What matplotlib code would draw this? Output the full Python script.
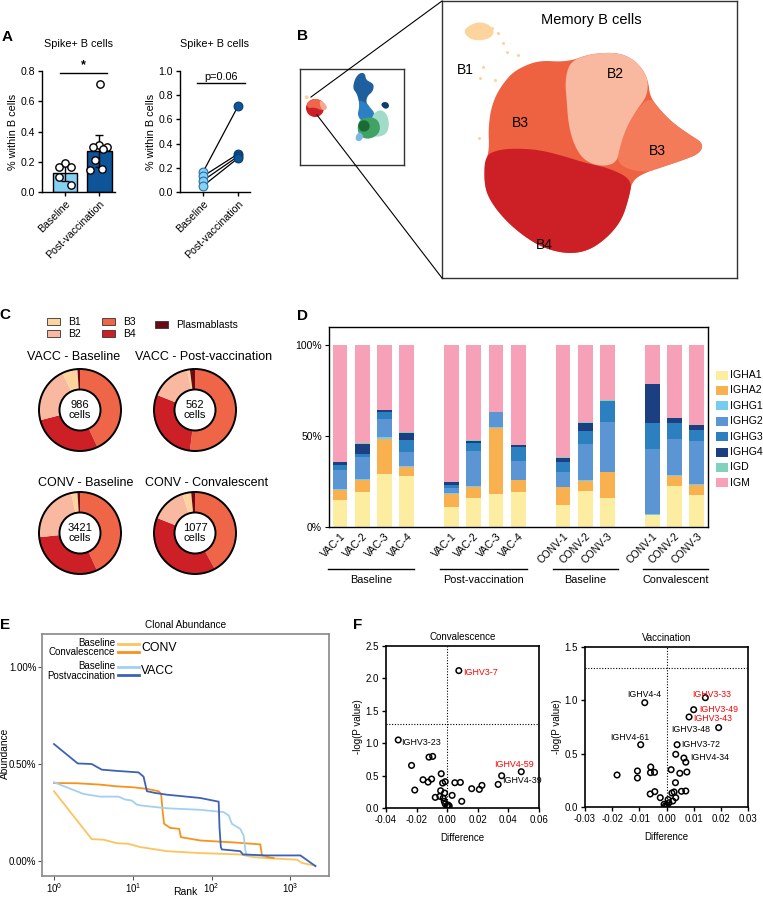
import matplotlib
matplotlib.use('Agg')
import matplotlib.pyplot as plt
import numpy as np
from matplotlib.patches import Rectangle, Circle, Polygon

plt.rcParams['font.family'] = ['Liberation Sans', 'DejaVu Sans']
plt.rcParams['axes.linewidth'] = 1.0
plt.rcParams['mathtext.fontset'] = 'custom'
plt.rcParams['mathtext.rm'] = 'Liberation Sans'
plt.rcParams['mathtext.it'] = 'Liberation Sans:italic'
plt.rcParams['mathtext.bf'] = 'Liberation Sans:bold'

W, H = 763, 900
fig = plt.figure(figsize=(W / 100, H / 100), dpi=100)


def ax_px(x0, y0, x1, y1, **kw):
    return fig.add_axes([x0 / W, 1 - y1 / H, (x1 - x0) / W, (y1 - y0) / H], **kw)


def smooth(pts, n=3, closed=True):
    p = np.array(pts, dtype=float)
    for _ in range(n):
        q = np.roll(p, -1, axis=0) if closed else p[1:]
        a = p if closed else p[:-1]
        Q = 0.75 * a + 0.25 * q
        R = 0.25 * a + 0.75 * q
        p = np.empty((2 * len(a), 2))
        p[0::2] = Q
        p[1::2] = R
    return p


# ---------------- DATA ----------------
# Panel A
a_groups = ['Baseline', 'Post-vaccination']
a_bar_mean = [0.125, 0.27]
a_bar_sd = [0.05, 0.105]
a_base_pts = [0.19, 0.165, 0.165, 0.10, 0.045]
a_post_pts = [0.715, 0.313, 0.297, 0.297, 0.285, 0.21, 0.155, 0.148]
pair_base = [0.165, 0.13, 0.095, 0.05]
pair_post = [0.71, 0.315, 0.295, 0.28]

# Panel C
donut_titles = ['VACC - Baseline', 'VACC - Post-vaccination', 'CONV - Baseline', 'CONV - Convalescent']
donut_cells = [986, 562, 3421, 1077]
frac_B1 = [0.06, 0.01, 0.025, 0.035]
frac_B2 = [0.22, 0.16, 0.23, 0.14]
frac_B3 = [0.43, 0.52, 0.43, 0.42]
frac_B4 = [0.28, 0.29, 0.30, 0.39]
frac_PB = [0.01, 0.02, 0.01, 0.015]

# Panel D
d_samples = ['VAC-1', 'VAC-2', 'VAC-3', 'VAC-4', 'VAC-1', 'VAC-2', 'VAC-3', 'VAC-4',
             'CONV-1', 'CONV-2', 'CONV-3', 'CONV-1', 'CONV-2', 'CONV-3']
d_groups = ['Baseline', 'Post-vaccination', 'Baseline', 'Convalescent']
isotypes = ['IGHA1', 'IGHA2', 'IGHG1', 'IGHG2', 'IGHG3', 'IGHG4', 'IGD', 'IGM']
IGHA1 = [0.15, 0.19, 0.29, 0.278, 0.11, 0.16, 0.18, 0.192, 0.123, 0.20, 0.16, 0.068, 0.227, 0.178]
IGHA2 = [0.055, 0.07, 0.195, 0.052, 0.07, 0.062, 0.364, 0.064, 0.095, 0.055, 0.14, 0.0, 0.055, 0.051]
IGHG1 = [0.005, 0.005, 0.01, 0.005, 0.008, 0.005, 0.005, 0.005, 0.004, 0.005, 0.005, 0.003, 0.003, 0.005]
IGHG2 = [0.105, 0.12, 0.10, 0.077, 0.026, 0.193, 0.085, 0.103, 0.08, 0.198, 0.274, 0.358, 0.20, 0.24]
IGHG3 = [0.025, 0.015, 0.035, 0.068, 0.015, 0.04, 0.0, 0.076, 0.057, 0.072, 0.115, 0.141, 0.088, 0.061]
IGHG4 = [0.017, 0.055, 0.012, 0.035, 0.016, 0.014, 0.0, 0.01, 0.022, 0.043, 0.0, 0.214, 0.026, 0.024]
IGD = [0.003, 0.005, 0.003, 0.005, 0.002, 0.006, 0.0, 0.003, 0.002, 0.005, 0.006, 0.0, 0.001, 0.004]
IGM = [0.64, 0.54, 0.355, 0.48, 0.753, 0.52, 0.366, 0.547, 0.617, 0.422, 0.30, 0.216, 0.40, 0.437]

# Panel E (rank, abundance %)
conv_base_rank = [1, 3.01, 4.24, 6.26, 8.8, 12.4, 15.1, 27, 71.8, 231, 342, 505, 1216, 1407, 2080]
conv_base_ab = [0.36, 0.113, 0.11, 0.092, 0.089, 0.072, 0.067, 0.051, 0.041, 0.034, 0.02, 0.015, 0.007, -0.01, -0.024]
conv_conv_rank = [1, 1.94, 3.84, 6.26, 10.2, 15.1, 21.2, 22.9, 24.1, 25.0, 29.8, 38.8, 40.8, 71.8, 190, 415, 436, 505, 614]
conv_conv_ab = [0.402, 0.401, 0.394, 0.385, 0.38, 0.372, 0.36, 0.346, 0.243, 0.192, 0.171, 0.166, 0.123, 0.106, 0.096, 0.086, 0.029, 0.021, 0.015]
vacc_base_rank = [1, 2.36, 3.84, 6.57, 8.0, 9.7, 11.2, 13.0, 27, 71.8, 142, 165, 181, 231, 255, 268, 276, 342, 481]
vacc_base_ab = [0.406, 0.346, 0.332, 0.332, 0.317, 0.312, 0.291, 0.286, 0.272, 0.264, 0.252, 0.235, 0.192, 0.166, 0.132, 0.058, 0.034, 0.029, 0.027]
vacc_post_rank = [1, 2.0, 3.01, 4.04, 5.68, 8.39, 11.8, 13.7, 15.1, 19.2, 27, 71.8, 123, 126, 131, 135, 231, 250, 505, 1340, 2080]
vacc_post_ab = [0.603, 0.503, 0.5, 0.471, 0.466, 0.461, 0.457, 0.435, 0.36, 0.351, 0.342, 0.325, 0.306, 0.175, 0.072, 0.06, 0.051, 0.034, 0.029, 0.029, -0.026]

# Panel F
conv_diff = [0.0076, -0.032, -0.0233, -0.0119, -0.0095, -0.0039, -0.0158, -0.0125, -0.0102, -0.003, -0.0013,
             -0.0212, -0.0043, -0.0017, -0.0078, -0.0048, -0.0026, 0.0032, -0.0019, -0.0013, 0.0, 0.0013, 0.0006,
             0.005, 0.0086, 0.0095, 0.016, 0.021, 0.0227, 0.0333, 0.0356, 0.0484]
conv_logp = [2.12, 1.05, 0.657, 0.785, 0.796, 0.529, 0.436, 0.40, 0.447, 0.385, 0.406,
             0.277, 0.267, 0.231, 0.164, 0.18, 0.154, 0.195, 0.103, 0.062, 0.036, 0.031, 0.046,
             0.39, 0.395, 0.103, 0.298, 0.287, 0.349, 0.364, 0.498, 0.56]
vacc_diff = [-0.008, 0.0143, 0.010, 0.0083, 0.0192, -0.0095, 0.0039, 0.0071, 0.0064, 0.0034, -0.0182, -0.0107,
             -0.0107, -0.0058, -0.0059, -0.0044, 0.0017, 0.0049, 0.0075, 0.0033, -0.006, -0.0043, -0.0023, 0.002,
             0.0028, 0.0034, 0.0055, 0.0071, 0.0006, 0.0023, -0.0009, -0.0004, 0.0002, 0.0009, 0.0]
vacc_logp = [0.978, 1.025, 0.9125, 0.844, 0.744, 0.584, 0.584, 0.42, 0.459, 0.494, 0.30, 0.338,
             0.272, 0.375, 0.322, 0.325, 0.35, 0.316, 0.328, 0.228, 0.122, 0.144, 0.0875, 0.131,
             0.141, 0.0875, 0.147, 0.15, 0.069, 0.056, 0.025, 0.0125, 0.016, 0.04, 0.0]
conv_labels = [('IGHV3-7', 0.0104, 2.09, 'red'), ('IGHV3-23', -0.0304, 1.016, 'black'),
               ('IGHV4-59', 0.0307, 0.678, 'red'), ('IGHV4-39', 0.0356, 0.421, 'black')]
vacc_labels = [('IGHV4-4', -0.0145, 1.056, 'black'), ('IGHV3-33', 0.0095, 1.056, 'red'),
               ('IGHV3-49', 0.0119, 0.91, 'red'), ('IGHV3-43', 0.0100, 0.826, 'red'),
               ('IGHV3-48', 0.0016, 0.728, 'black'), ('IGHV4-61', -0.0208, 0.656, 'black'),
               ('IGHV3-72', 0.0055, 0.59, 'black'), ('IGHV4-34', 0.0086, 0.466, 'black')]

# Panel B cluster outlines (UMAP coordinates)
umap_main = [(760, 250), (790, 215), (840, 190), (880, 182), (930, 185), (970, 180), (1010, 165), (1060, 158),
             (1110, 160), (1150, 178), (1180, 210), (1195, 245), (1200, 290), (1230, 330), (1270, 370), (1320, 405),
             (1360, 430), (1350, 460), (1300, 480), (1240, 500), (1180, 520), (1145, 545), (1135, 600), (1115, 660),
             (1075, 710), (1020, 750), (960, 762), (890, 748), (830, 715), (770, 665), (725, 610), (703, 560),
             (705, 500), (718, 445), (715, 390), (722, 330), (738, 285)]
umap_B3r = [(1160, 330), (1200, 290), (1230, 330), (1270, 370), (1320, 405), (1360, 430), (1350, 460), (1300, 480),
            (1240, 500), (1180, 520), (1100, 495), (1110, 440), (1130, 380)]
umap_B2 = [(960, 185), (1010, 165), (1060, 158), (1110, 160), (1150, 178), (1180, 210), (1195, 245), (1190, 290),
           (1160, 330), (1130, 380), (1110, 440), (1100, 490), (1050, 500), (1000, 480), (970, 430), (955, 370),
           (950, 300), (945, 240)]
umap_B4 = [(703, 470), (740, 450), (800, 445), (870, 450), (940, 468), (1010, 490), (1080, 505), (1148, 540),
           (1135, 600), (1115, 660), (1075, 710), (1020, 750), (960, 762), (890, 748), (830, 715), (770, 665),
           (725, 610), (703, 560)]
umap_B1 = [(640, 95), (655, 78), (685, 65), (715, 72), (735, 95), (720, 115), (690, 122), (660, 118)]
umap_B1_x = [745, 770, 805, 700, 690, 735, 688, 760, 725]
umap_B1_y = [100, 155, 165, 200, 235, 240, 415, 130, 85]

# ---------------- COLORS ----------------
c_B1, c_B2, c_B3, c_B4, c_PB = '#fdd49e', '#f9b8a0', '#ef6548', '#cd1f26', '#6b0a16'
c_base_bar, c_post_bar = '#86d0f2', '#0d5499'
iso_colors = ['#fdeda0', '#f9b04f', '#76cbf0', '#5b95d3', '#2d80c0', '#1b3f80', '#80d2bc', '#f6a1b8']
e_colors = ['#fdc45e', '#f7921e', '#a3d0f0', '#3d62b5']

# ---------------- PANEL A ----------------
axA1 = ax_px(42, 71, 115, 192)
xpos = [0, 1]
axA1.bar(xpos, a_bar_mean, width=0.7, color=[c_base_bar, c_post_bar], edgecolor='black', linewidth=1, zorder=1)
axA1.errorbar(xpos, a_bar_mean, yerr=a_bar_sd, fmt='none', ecolor='black', elinewidth=1, capsize=3, zorder=2)
jit_b = [0, -0.16, 0.16, -0.16, 0.16]
jit_p = [0.02, 0.0, -0.2, 0.21, 0.1, -0.13, 0.07, -0.27]
axA1.scatter([0 + j for j in jit_b], a_base_pts, s=28, facecolor='white', edgecolor='black', linewidth=1, zorder=3)
axA1.scatter([1 + j for j in jit_p], a_post_pts, s=28, facecolor='white', edgecolor='black', linewidth=1, zorder=3)
axA1.plot([-0.15, 1.22], [0.787, 0.787], color='black', lw=1, clip_on=False)
axA1.text(0.53, 0.80, '*', ha='center', va='bottom', fontsize=9, fontweight='bold')
axA1.set_xlim(-0.667, 1.45)
axA1.set_ylim(0, 0.8)
axA1.set_yticks([0, 0.2, 0.4, 0.6, 0.8])
axA1.set_yticklabels(['0.0', '0.2', '0.4', '0.6', '0.8'])
axA1.set_ylabel('% within B cells', fontsize=7.8, labelpad=2)
axA1.set_title('Spike+ B cells', fontsize=7.8, pad=17)

axA2 = ax_px(180, 71, 250, 192)
for b, p in zip(pair_base, pair_post):
    axA2.plot([0, 1], [b, p], color='black', lw=0.9, zorder=1)
axA2.scatter([0] * len(pair_base), pair_base, s=40, color=c_base_bar, edgecolor='#2a6da8', linewidth=0.8, zorder=3)
axA2.scatter([1] * len(pair_post), pair_post, s=40, color=c_post_bar, edgecolor='#083c70', linewidth=0.8, zorder=3)
axA2.plot([-0.17, 1.2], [0.9, 0.9], color='black', lw=1, clip_on=False)
axA2.text(0.52, 0.91, 'p=0.06', ha='center', va='bottom', fontsize=7.8)
axA2.set_xlim(-0.657, 1.34)
axA2.set_ylim(0, 1.0)
axA2.set_yticks([0, 0.2, 0.4, 0.6, 0.8, 1.0])
axA2.set_yticklabels(['0.0', '0.2', '0.4', '0.6', '0.8', '1.0'])
axA2.set_ylabel('% within B cells', fontsize=7.8, labelpad=2)
axA2.set_title('Spike+ B cells', fontsize=7.8, pad=17)

for ax in (axA1, axA2):
    ax.spines['top'].set_visible(False)
    ax.spines['right'].set_visible(False)
    ax.set_xticks(xpos)
    ax.set_xticklabels(a_groups, rotation=45, ha='right', rotation_mode='anchor', fontsize=7.8)
    ax.tick_params(axis='both', labelsize=7.6, length=3, width=1, pad=2)

# ---------------- PANEL B ----------------
axB0 = ax_px(300, 69, 404, 165)
axB0.set_xlim(120, 432)
axB0.set_ylim(435, 147)
axB0.set_xticks([]); axB0.set_yticks([])
for s in axB0.spines.values():
    s.set_color('#333333'); s.set_linewidth(1)
axB0.add_patch(Circle((165, 264), 27, color=c_B4, lw=0))
axB0.add_patch(Polygon(smooth([(140, 248), (160, 236), (180, 238), (195, 252), (200, 265), (185, 272), (165, 262), (143, 265)], 2),
                       closed=True, color='#f0664a', lw=0))
axB0.add_patch(Polygon(smooth([(178, 240), (192, 248), (203, 262), (194, 272), (182, 266)], 2), closed=True, color='#f6a98e', lw=0))
axB0.add_patch(Circle((140, 232), 6, color=c_B1, lw=0))
axB0.add_patch(Polygon(smooth([(285, 175), (300, 158), (315, 160), (318, 180), (335, 188), (342, 197), (338, 215), (322, 228),
                               (318, 248), (330, 262), (300, 265), (296, 240), (290, 220), (278, 205)], 2), closed=True, color='#1f5f9e', lw=0))
axB0.add_patch(Polygon(smooth([(296, 240), (318, 248), (330, 262), (345, 280), (335, 300), (305, 305), (292, 285), (298, 262)], 2),
                       closed=True, color='#2c7fc2', lw=0))
axB0.add_patch(Polygon(smooth([(362, 255), (370, 245), (385, 248), (388, 262), (375, 268)], 2), closed=True, color='#0e3d6b', lw=0))
axB0.add_patch(Polygon(smooth([(335, 285), (360, 268), (380, 280), (388, 310), (382, 340), (355, 352), (330, 345)], 2),
                       closed=True, color='#a2dbc8', lw=0))
axB0.add_patch(Polygon(smooth([(295, 300), (330, 290), (355, 300), (362, 330), (345, 352), (315, 358), (292, 340)], 2),
                       closed=True, color='#3fa363', lw=0))
axB0.add_patch(Circle((312, 318), 17, color='#1c6b37', lw=0))
axB0.add_patch(Polygon(smooth([(288, 345), (300, 335), (312, 350), (300, 365), (286, 360)], 2), closed=True, color='#7cb6e6', lw=0))

axB = ax_px(442, 1, 737, 278)
axB.set_xlim(576, 1461)
axB.set_ylim(834, 3)
axB.set_xticks([]); axB.set_yticks([])
for s in axB.spines.values():
    s.set_color('#333333'); s.set_linewidth(1)
axB.add_patch(Polygon(smooth(umap_main), closed=True, color='#ee6242', lw=0))
axB.add_patch(Polygon(smooth(umap_B3r), closed=True, color='#f47b5a', lw=0))
axB.add_patch(Polygon(smooth(umap_B2), closed=True, color=c_B2, lw=0))
axB.add_patch(Polygon(smooth(umap_B4), closed=True, color=c_B4, lw=0))
axB.add_patch(Polygon(smooth(umap_B1), closed=True, color=c_B1, lw=0))
axB.scatter(umap_B1_x, umap_B1_y, s=5, color=c_B1, lw=0)
axB.text(1025, 60, 'Memory B cells', ha='center', va='center', fontsize=10.5)
for lbl, x, y in [('B1', 645, 210), ('B2', 1095, 222), ('B3', 810, 370), ('B3', 1222, 452), ('B4', 882, 735)]:
    axB.text(x, y, lbl, ha='center', va='center', fontsize=10)

# ---------------- PANEL C ----------------
centers = [(80, 410), (195, 410), (80, 533), (195, 533)]
title_pos = [(74, 357), (204, 357), (86, 483), (207, 483)]
R = 41
for i, (cx, cy) in enumerate(centers):
    pad = 50
    axc = ax_px(cx - pad, cy - pad, cx + pad, cy + pad)
    vals = [frac_B3[i], frac_B4[i], frac_B2[i], frac_B1[i], frac_PB[i]]
    cols = [c_B3, c_B4, c_B2, c_B1, c_PB]
    axc.pie(vals, colors=cols, startangle=90, counterclock=False, radius=1,
            wedgeprops=dict(width=0.5, linewidth=0), normalize=True)
    axc.add_patch(Circle((0, 0), 1, fill=False, edgecolor='black', lw=1.4))
    axc.add_patch(Circle((0, 0), 0.5, fill=False, edgecolor='black', lw=1.4))
    axc.set_xlim(-pad / R, pad / R)
    axc.set_ylim(-pad / R, pad / R)
    axc.set_aspect('equal')
    axc.axis('off')
    axc.text(0, 0, f'{donut_cells[i]}\ncells', ha='center', va='center', fontsize=8, linespacing=1.1)

# ---------------- PANEL D ----------------
axD = ax_px(329, 327, 708, 527)
d_x = [0, 1, 2, 3, 5, 6, 7, 8, 10, 11, 12, 14, 15, 16]
bottom = np.zeros(len(d_x))
for name, vals, col in zip(isotypes, [IGHA1, IGHA2, IGHG1, IGHG2, IGHG3, IGHG4, IGD, IGM], iso_colors):
    v = np.array(vals)
    if name == 'IGM':
        v = 1.0 - bottom
    axD.bar(d_x, v, bottom=bottom, width=0.66, color=col, lw=0)
    bottom = bottom + v
axD.set_xlim(-0.49, 16.5)
axD.set_ylim(0, 1.1)
axD.set_yticks([0, 0.5, 1.0])
axD.set_yticklabels(['0%', '50%', '100%'])
axD.set_xticks(d_x)
axD.set_xticklabels(d_samples, rotation=45, ha='right', rotation_mode='anchor', fontsize=7.5)
axD.tick_params(axis='y', labelsize=7.5, length=3, pad=2)
axD.tick_params(axis='x', length=0, pad=3)

# ---------------- PANEL E ----------------
axE = ax_px(42, 634, 329, 876)
axE.plot(conv_base_rank, conv_base_ab, color=e_colors[0], lw=1.3)
axE.plot(conv_conv_rank, conv_conv_ab, color=e_colors[1], lw=1.3)
axE.plot(vacc_base_rank, vacc_base_ab, color=e_colors[2], lw=1.3)
axE.plot(vacc_post_rank, vacc_post_ab, color=e_colors[3], lw=1.3)
axE.set_xscale('log')
axE.set_xlim(10 ** -0.152, 10 ** 3.49)
axE.set_ylim(-0.077, 1.17)
axE.set_xticks([1, 10, 100, 1000])
axE.set_xticklabels([r'$10^0$', r'$10^1$', r'$10^2$', r'$10^3$'])
axE.xaxis.set_minor_locator(matplotlib.ticker.NullLocator())
axE.set_yticks([0, 0.5, 1.0])
axE.set_yticklabels(['0.00%', '0.50%', '1.00%'])
axE.tick_params(labelsize=7.0, length=3, color='#555555', pad=1)
for s in axE.spines.values():
    s.set_color('#888888'); s.set_linewidth(1.2)
axE.set_title('Clonal Abundance', fontsize=7.2, pad=4)

# ---------------- PANEL F ----------------
axF1 = ax_px(386, 646, 539, 808)
axF1.scatter(conv_diff, conv_logp, s=16, facecolor='none', edgecolor='black', linewidth=1.1, zorder=3)
axF1.axvline(0, color='black', ls=(0, (1, 1.5)), lw=0.8)
axF1.axhline(1.3, color='black', ls=(0, (1, 1.5)), lw=0.8)
for t, x, y, c in conv_labels:
    axF1.text(x, y, t, color=c, fontsize=6.4, ha='left', va='center')
axF1.set_xlim(-0.04, 0.06)
axF1.set_ylim(0, 2.5)
axF1.set_xticks([-0.04, -0.02, 0.0, 0.02, 0.04, 0.06])
axF1.set_xticklabels(['-0.04', '-0.02', '0.00', '0.02', '0.04', '0.06'])
axF1.set_yticks([0, 0.5, 1.0, 1.5, 2.0, 2.5])
axF1.set_yticklabels(['0.0', '0.5', '1.0', '1.5', '2.0', '2.5'])
axF1.set_title('Convalescence', fontsize=7, pad=4)

axF2 = ax_px(585, 647, 748, 807)
axF2.scatter(vacc_diff, vacc_logp, s=16, facecolor='none', edgecolor='black', linewidth=1.1, zorder=3)
axF2.axvline(0, color='black', ls=(0, (1, 1.5)), lw=0.8)
axF2.axhline(1.3, color='black', ls=(0, (1, 1.5)), lw=0.8)
for t, x, y, c in vacc_labels:
    axF2.text(x, y, t, color=c, fontsize=6.3, ha='left', va='center')
axF2.set_xlim(-0.03, 0.03)
axF2.set_ylim(0, 1.5)
axF2.set_xticks([-0.03, -0.02, -0.01, 0.0, 0.01, 0.02, 0.03])
axF2.set_xticklabels(['-0.03', '-0.02', '-0.01', '0.00', '0.01', '0.02', '0.03'])
axF2.set_yticks([0, 0.5, 1.0, 1.5])
axF2.set_yticklabels(['0.0', '0.5', '1.0', '1.5'])
axF2.set_title('Vaccination', fontsize=7, pad=4)

for ax in (axF1, axF2):
    for s in ax.spines.values():
        s.set_linewidth(1.2)
    ax.tick_params(labelsize=7, length=3, width=1, pad=2)
    ax.set_xlabel('Difference', fontsize=7, labelpad=6)
    ax.set_ylabel('-log(P value)', fontsize=7, labelpad=2)

# ---------------- OVERLAY (labels, legends, connectors) ----------------
ov = fig.add_axes([0, 0, 1, 1], zorder=10)
ov.set_xlim(0, W)
ov.set_ylim(H, 0)
ov.axis('off')
ov.patch.set_alpha(0)

for lbl, x, y in [('A', 7, 37), ('B', 302, 36), ('C', 5, 315), ('D', 302, 316), ('E', 5, 625), ('F', 358, 625)]:
    ov.text(x, y, lbl, fontsize=11, fontweight='bold', ha='center', va='center')

# B connectors
ov.plot([311, 442], [97, 1], color='black', lw=0.8)
ov.plot([317, 442], [115, 278], color='black', lw=0.8)

# C legend
for (x, y, c, t) in [(47, 318, c_B1, 'B1'), (47, 330, c_B2, 'B2'), (102, 318, c_B3, 'B3'), (102, 330, c_B4, 'B4'),
                     (155, 321, c_PB, 'Plasmablasts')]:
    ov.add_patch(Rectangle((x, y), 13, 7, facecolor=c, edgecolor='#333333', lw=0.6))
    ov.text(x + 21, y + 3.8, t, fontsize=7.5, ha='left', va='center')
# C titles
for (tx, ty), t in zip(title_pos, donut_titles):
    ov.text(tx, ty, t, fontsize=9, ha='center', va='center')

# D legend
for k, (name, col) in enumerate(zip(isotypes, iso_colors)):
    y = 375 + k * 15.4
    ov.add_patch(Rectangle((716, y - 4.5), 12, 9, facecolor=col, lw=0))
    ov.text(730, y, name, fontsize=7.6, ha='left', va='center')
# D group lines
for (x0, x1), g in zip([(328, 414), (440, 527), (553, 618), (643, 708)], d_groups):
    ov.plot([x0, x1], [569, 569], color='black', lw=1)
    ov.text((x0 + x1) / 2, 580, g, fontsize=7.8, ha='center', va='center')

# E legend and axis labels
ov.plot([118, 139], [644, 644], color=e_colors[0], lw=2)
ov.plot([118, 139], [652, 652], color=e_colors[1], lw=2)
ov.text(115, 643, 'Baseline', fontsize=7, ha='right', va='center')
ov.text(115, 652, 'Convalescence', fontsize=7, ha='right', va='center')
ov.text(141, 648, 'CONV', fontsize=8.8, ha='left', va='center')
ov.plot([118, 139], [667, 667], color=e_colors[2], lw=2)
ov.plot([118, 139], [675, 675], color=e_colors[3], lw=2)
ov.text(115, 666, 'Baseline', fontsize=7, ha='right', va='center')
ov.text(115, 676, 'Postvaccination', fontsize=7, ha='right', va='center')
ov.text(141, 671, 'VACC', fontsize=8.8, ha='left', va='center')
ov.text(5, 753, 'Abundance', fontsize=7.3, rotation=90, ha='center', va='center')
ov.text(185, 892, 'Rank', fontsize=7.5, ha='center', va='center')

fig.savefig('out.png', dpi=100)
